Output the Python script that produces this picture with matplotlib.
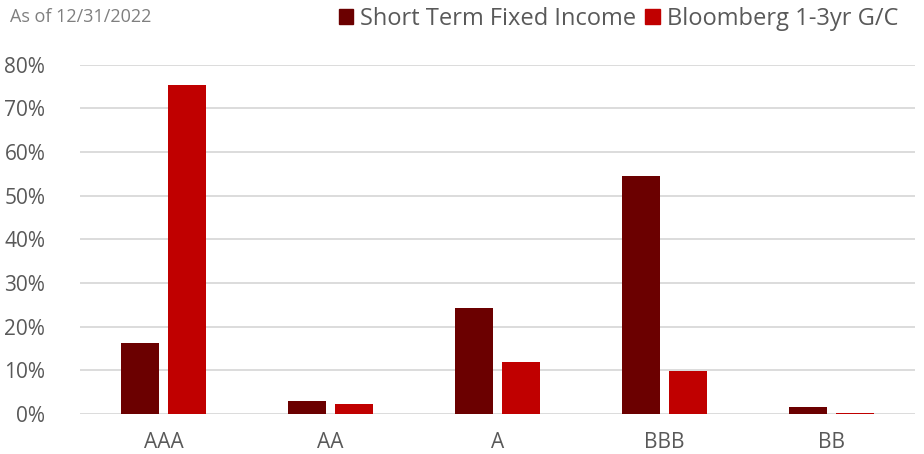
import numpy as np
import matplotlib
matplotlib.use('Agg')
import matplotlib.pyplot as plt
from matplotlib.patches import Patch

# credit quality breakdown, as of 12/31/2022
lsRatings = ['AAA', 'AA', 'A', 'BBB', 'BB']
lsFund = [16.3, 3.0, 24.3, 54.5, 1.5]        # Short Term Fixed Income (%)
lsIndex = [75.4, 2.2, 11.9, 9.9, 0.2]        # Bloomberg 1-3yr G/C (%)
lsYTicks = [0, 10, 20, 30, 40, 50, 60, 70, 80]

strDark = '#6B0000'
strRed = '#C00000'
strGrey = '#595959'

plt.rcParams['font.family'] = ['Open Sans', 'DejaVu Sans']

fig = plt.figure(figsize=(9.24, 4.54), dpi=100)
ax = fig.add_axes([80/924., 1-414/454., 835/924., (414-64.7)/454.])

x = np.arange(len(lsRatings))
dWidth = 0.228
dOffset = 0.141
ax.bar(x - dOffset, lsFund, width=dWidth, color=strDark, zorder=3)
ax.bar(x + dOffset, lsIndex, width=dWidth, color=strRed, zorder=3)

# set style
ax.set_xlim(-0.5, len(lsRatings) - 0.5)
ax.set_ylim(0, 80)
ax.set_yticks(lsYTicks)
ax.set_yticklabels(['%d%%' % v for v in lsYTicks])
ax.set_xticks(x)
ax.set_xticklabels(lsRatings)
ax.yaxis.grid(True, color='#D9D9D9', linewidth=1.3, zorder=0)
for s in ax.spines.values():
    s.set_visible(False)
ax.tick_params(axis='both', length=0, labelsize=15, colors=strGrey)
ax.tick_params(axis='y', pad=25)
ax.tick_params(axis='x', pad=13)
for lbl in ax.get_yticklabels():
    lbl.set_horizontalalignment('right')

fig.text(10/924., 1-17/454., 'As of 12/31/2022', fontsize=13, color='#7F7F7F', va='center')

handles = [Patch(color=strDark), Patch(color=strRed)]
fig.legend(handles, ['Short Term Fixed Income', 'Bloomberg 1-3yr G/C'],
           loc='center right', bbox_to_anchor=(898/924., 1-19/454.), ncol=2,
           frameon=False, fontsize=17, labelcolor=strGrey,
           handlelength=0.6, handleheight=0.6, handletextpad=0.3, columnspacing=0.4,
           borderpad=0, borderaxespad=0)

fig.savefig('out.png', dpi=100)
